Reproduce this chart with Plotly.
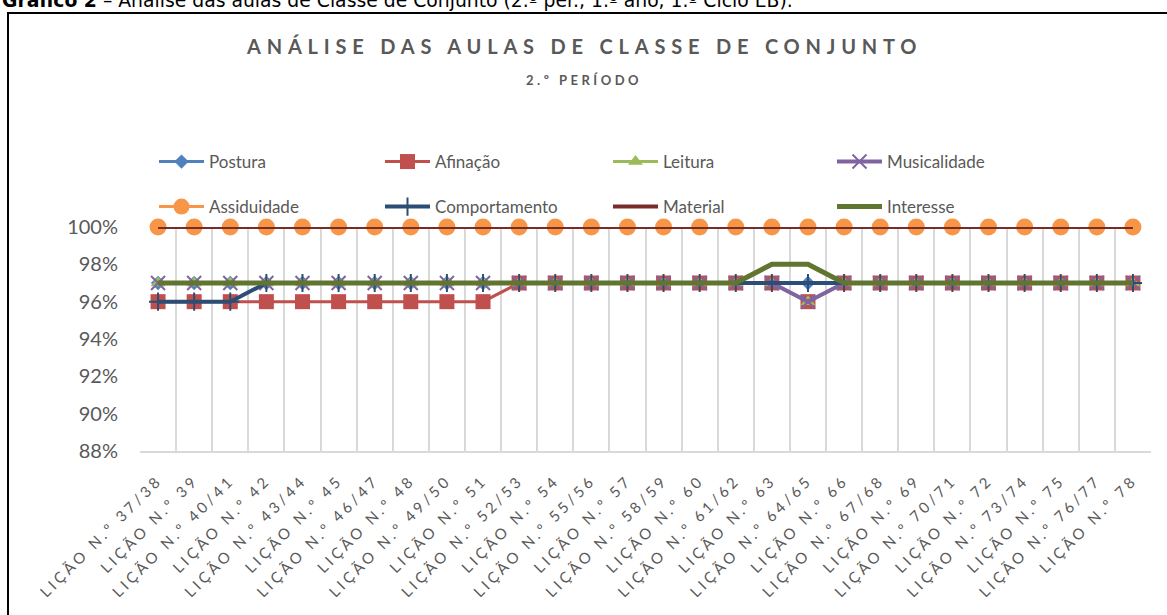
import plotly.graph_objects as go

categories = [
    "LIÇÃO N.º 37/38", "LIÇÃO N.º 39", "LIÇÃO N.º 40/41", "LIÇÃO N.º 42",
    "LIÇÃO N.º 43/44", "LIÇÃO N.º 45", "LIÇÃO N.º 46/47", "LIÇÃO N.º 48",
    "LIÇÃO N.º 49/50", "LIÇÃO N.º 51", "LIÇÃO N.º 52/53", "LIÇÃO N.º 54",
    "LIÇÃO N.º 55/56", "LIÇÃO N.º 57", "LIÇÃO N.º 58/59", "LIÇÃO N.º 60",
    "LIÇÃO N.º 61/62", "LIÇÃO N.º 63", "LIÇÃO N.º 64/65", "LIÇÃO N.º 66",
    "LIÇÃO N.º 67/68", "LIÇÃO N.º 69", "LIÇÃO N.º 70/71", "LIÇÃO N.º 72",
    "LIÇÃO N.º 73/74", "LIÇÃO N.º 75", "LIÇÃO N.º 76/77", "LIÇÃO N.º 78",
]

postura = [0.97, 0.97, 0.97, 0.97, 0.97, 0.97, 0.97, 0.97, 0.97, 0.97,
           0.97, 0.97, 0.97, 0.97, 0.97, 0.97, 0.97, 0.97, 0.97, 0.97,
           0.97, 0.97, 0.97, 0.97, 0.97, 0.97, 0.97, 0.97]
afinacao = [0.96, 0.96, 0.96, 0.96, 0.96, 0.96, 0.96, 0.96, 0.96, 0.96,
            0.97, 0.97, 0.97, 0.97, 0.97, 0.97, 0.97, 0.97, 0.96, 0.97,
            0.97, 0.97, 0.97, 0.97, 0.97, 0.97, 0.97, 0.97]
leitura = [0.97, 0.97, 0.97, 0.97, 0.97, 0.97, 0.97, 0.97, 0.97, 0.97,
           0.97, 0.97, 0.97, 0.97, 0.97, 0.97, 0.97, 0.97, 0.96, 0.97,
           0.97, 0.97, 0.97, 0.97, 0.97, 0.97, 0.97, 0.97]
musicalidade = [0.97, 0.97, 0.97, 0.97, 0.97, 0.97, 0.97, 0.97, 0.97, 0.97,
                0.97, 0.97, 0.97, 0.97, 0.97, 0.97, 0.97, 0.97, 0.96, 0.97,
                0.97, 0.97, 0.97, 0.97, 0.97, 0.97, 0.97, 0.97]
assiduidade = [1.00, 1.00, 1.00, 1.00, 1.00, 1.00, 1.00, 1.00, 1.00, 1.00,
               1.00, 1.00, 1.00, 1.00, 1.00, 1.00, 1.00, 1.00, 1.00, 1.00,
               1.00, 1.00, 1.00, 1.00, 1.00, 1.00, 1.00, 1.00]
comportamento = [0.96, 0.96, 0.96, 0.97, 0.97, 0.97, 0.97, 0.97, 0.97, 0.97,
                 0.97, 0.97, 0.97, 0.97, 0.97, 0.97, 0.97, 0.97, 0.97, 0.97,
                 0.97, 0.97, 0.97, 0.97, 0.97, 0.97, 0.97, 0.97]
material = [1.00, 1.00, 1.00, 1.00, 1.00, 1.00, 1.00, 1.00, 1.00, 1.00,
            1.00, 1.00, 1.00, 1.00, 1.00, 1.00, 1.00, 1.00, 1.00, 1.00,
            1.00, 1.00, 1.00, 1.00, 1.00, 1.00, 1.00, 1.00]
interesse = [0.97, 0.97, 0.97, 0.97, 0.97, 0.97, 0.97, 0.97, 0.97, 0.97,
             0.97, 0.97, 0.97, 0.97, 0.97, 0.97, 0.97, 0.98, 0.98, 0.97,
             0.97, 0.97, 0.97, 0.97, 0.97, 0.97, 0.97, 0.97]

y_ticks = [0.88, 0.90, 0.92, 0.94, 0.96, 0.98, 1.00]

title_text = "ANÁLISE DAS AULAS DE CLASSE DE CONJUNTO"
subtitle_text = "2.º PERÍODO"
caption_bold = "Gráfico 2"
caption_rest = " – Análise das aulas de Classe de Conjunto (2.º per., 1.º ano, 1.º Ciclo EB)."

# ---- geometry (pixels) ----
W, H = 1167, 615
PL, PR, PT, PB = 140, 1151, 227, 451
def px(x):
    return (x - PL) / (PR - PL)
def py(y):
    return (PB - y) / (PB - PT)

GRAY = "#595959"
FONT = "Lato"

series = [
    ("Postura", postura, dict(color="#4F81BD", width=3),
     dict(symbol="diamond", size=11, color="#4F81BD")),
    ("Afinação", afinacao, dict(color="#C0504D", width=3),
     dict(symbol="square", size=15, color="#C0504D")),
    ("Leitura", leitura, dict(color="#9BBB59", width=3),
     dict(symbol="triangle-up", size=13, color="#9BBB59")),
    ("Musicalidade", musicalidade, dict(color="#8064A2", width=4),
     dict(symbol="x-thin", size=14, color="#8064A2", line=dict(color="#8064A2", width=2))),
    ("Assiduidade", assiduidade, dict(color="#F79646", width=3),
     dict(symbol="circle", size=17, color="#F79646")),
    ("Comportamento", comportamento, dict(color="#2C4D75", width=4),
     dict(symbol="cross-thin", size=13, color="#2C4D75", line=dict(color="#2C4D75", width=2))),
    ("Material", material, dict(color="#772C2A", width=4), None),
    ("Interesse", interesse, dict(color="#5F7530", width=5), None),
]

# legend text start positions (pixels) and rows
text_x = [208, 434, 662, 886]
row_y = [162, 207]

fig = go.Figure()
legend_layouts = {}
for i, (name, vals, line, marker) in enumerate(series):
    lname = "legend" if i == 0 else f"legend{i + 1}"
    kw = dict(x=categories, y=vals, name=name, line=line, legend=lname,
              cliponaxis=False)
    if marker is None:
        kw["mode"] = "lines"
    else:
        kw["mode"] = "lines+markers"
        kw["marker"] = marker
    fig.add_trace(go.Scatter(**kw))
    col, row = i % 4, i // 4
    legend_layouts[lname] = dict(
        x=px(text_x[col] - 54), y=py(row_y[row]), xanchor="left", yanchor="middle",
        orientation="v", bgcolor="rgba(0,0,0,0)", itemwidth=45,
        font=dict(family=FONT, size=17, color=GRAY),
    )

fig.update_layout(**legend_layouts)

fig.update_layout(
    width=W, height=H,
    margin=dict(l=PL, r=W - PR, t=PT, b=H - PB, autoexpand=False),
    paper_bgcolor="white", plot_bgcolor="white",
    showlegend=True,
    font=dict(family=FONT, color=GRAY),
    xaxis=dict(
        type="category", tickson="boundaries", showgrid=True, automargin=False,
        range=[-0.5, len(categories) - 0.5],
        gridcolor="#D9D9D9", gridwidth=1.5, showline=True, linecolor="#D9D9D9",
        linewidth=1.5, ticks="", tickangle=-45, ticklabelstandoff=13,
        tickfont=dict(family=FONT, size=15, color=GRAY),
        tickvals=categories,
        ticktext=[f'<span style="letter-spacing:3.4px">{c}</span>' for c in categories],
    ),
    yaxis=dict(
        range=[0.88, 1.00], tickvals=y_ticks, tickformat=".0%", automargin=False,
        showgrid=False, zeroline=False, showline=False, ticks="",
        ticklabelstandoff=21,
        tickfont=dict(family=FONT, size=20, color=GRAY),
    ),
)

# outer chart border
fig.add_shape(type="rect", xref="paper", yref="paper",
              x0=px(8), x1=px(1175), y0=py(640), y1=py(13),
              line=dict(color="black", width=2), fillcolor="rgba(0,0,0,0)", layer="above")

fig.add_annotation(
    xref="paper", yref="paper", x=px(584), y=py(46), xanchor="center", yanchor="middle",
    text=f'<b><span style="letter-spacing:5.8px">{title_text}</span></b>', showarrow=False,
    font=dict(family=FONT, size=20, color=GRAY),
)
fig.add_annotation(
    xref="paper", yref="paper", x=px(584), y=py(80), xanchor="center", yanchor="middle",
    text=f'<b><span style="letter-spacing:3.5px">{subtitle_text}</span></b>', showarrow=False,
    font=dict(family=FONT, size=13, color=GRAY),
)
fig.add_annotation(
    xref="paper", yref="paper", x=px(0), y=py(1), xanchor="left", yanchor="middle",
    text=f"<b>{caption_bold}</b>{caption_rest}", showarrow=False,
    font=dict(family="DejaVu Sans", size=18.8, color="black"),
)

fig.write_html("out.html", config={"displayModeBar": False},
               post_script="document.body.style.margin='0';")
